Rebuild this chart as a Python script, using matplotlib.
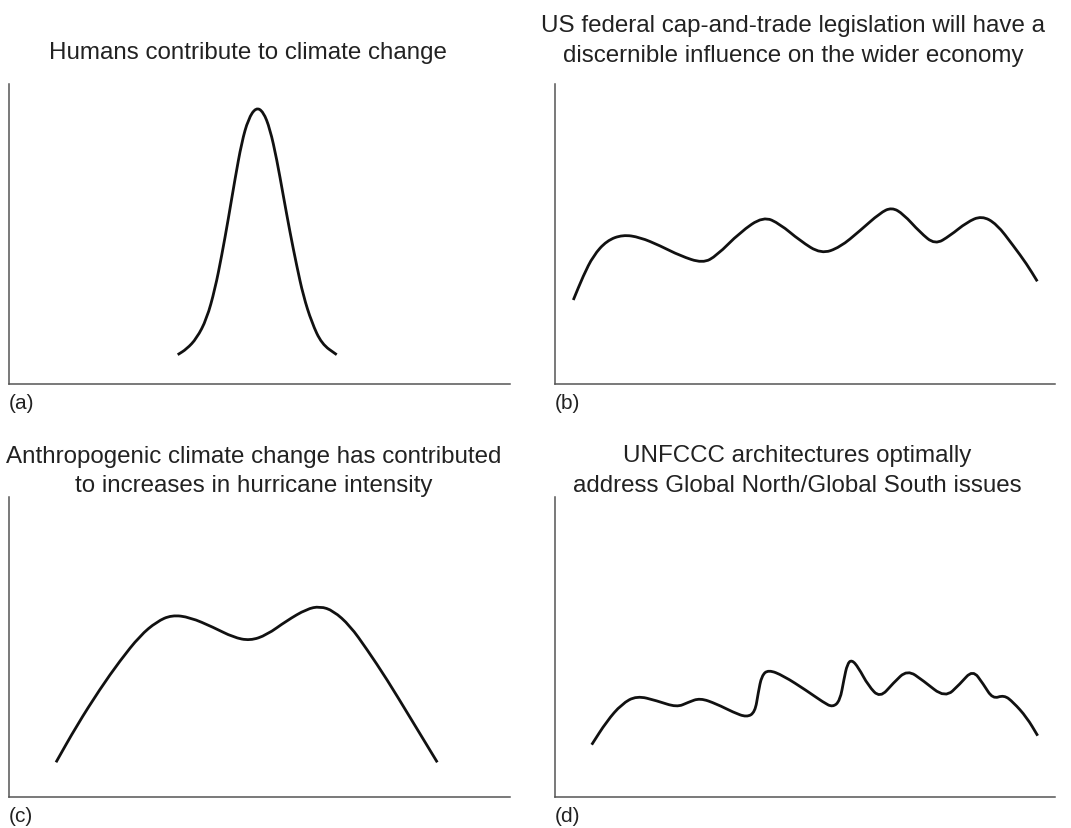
import matplotlib
matplotlib.use("Agg")
import matplotlib.pyplot as plt
from matplotlib.path import Path
from matplotlib.patches import PathPatch

W, H = 1071, 829
plt.rcParams["font.family"] = ["Liberation Sans", "DejaVu Sans"]
INK = "#222222"; SPINE = "#555555"

# curves (x along axis, y above baseline; same units both panels)
a_x = [168.7, 177.7, 187.7, 197.7, 206, 212.7, 219.3, 226, 232.7, 239.3, 247, 254.3, 261, 267.7,
       274.3, 281, 287.7, 294.3, 302.7, 312.7, 327.7]
a_y = [29.3, 35, 45.7, 65, 95, 128.3, 165, 205, 241.7, 265, 276.7, 272.3, 255, 225,
       188.3, 151.7, 118.3, 88.3, 61.7, 40, 29.3]

b_x = [18.3, 28.3, 38.3, 51.7, 67.7, 85, 105, 125, 147.7, 161.7, 185, 208.3, 225, 245, 266, 285,
       305, 325, 336.7, 348.3, 365, 380, 395, 411.7, 426.7, 441.7, 458.3, 471.7, 482.3]
b_y = [84, 108.3, 128.3, 143.3, 149.3, 146.7, 138.3, 128.3, 120.7, 128.3, 151.7, 167.7, 160, 143.3,
       130, 136.7, 153.3, 171, 176.7, 170, 151.7, 139.3, 148.3, 161.7, 168.3, 160, 138.3, 120, 102.7]

c_x = [47, 67.7, 91, 111, 131, 147.7, 162.7, 181, 204.3, 224.3, 241, 257.7, 277.7, 297.7, 311,
       324.3, 341, 357.7, 377.7, 401, 428.3]
c_y = [34.7, 71.3, 108, 136.3, 161.3, 175.3, 182, 179.7, 169.7, 159.7, 156.3, 162, 176.3, 188,
       190.7, 186.3, 171.3, 148, 118, 79.7, 34.7]

d_x = [36.7, 51.7, 66.7, 81.7, 101.7, 121.7, 133.3, 145, 161.7, 178.3, 191.7, 200, 203.3, 206.7,
       213.3, 228.3, 251.7, 268.3, 277.7, 285, 289, 292.3, 296.7, 303.3, 313.3, 325, 338.3, 352.3,
       368.3, 390, 405, 417.7, 428.3, 437.7, 449, 458.3, 471.7, 482.7]
d_y = [52.3, 75.7, 93, 101.3, 96.3, 89.7, 94.7, 99, 93, 84.7, 79.7, 84.7, 104.7, 121.3,
       127.3, 121.3, 106.3, 94.7, 89.7, 96.3, 118, 133, 137.3, 129.7, 111.3, 99, 114, 127.3,
       116.3, 99, 113, 127.3, 113, 98, 102, 94.7, 79.7, 61.3]

titles = [["Humans contribute to climate change"],
          ["US federal cap-and-trade legislation will have a", "discernible influence on the wider economy"],
          ["Anthropogenic climate change has contributed", "to increases in hurricane intensity"],
          ["UNFCCC architectures optimally", "address Global North/Global South issues"]]
tags = ["(a)", "(b)", "(c)", "(d)"]

# panel boxes in pixels: left, right, top, bottom
boxes = [(9, 510, 85, 385), (555, 1055, 85, 385), (9, 510, 498, 798), (555, 1055, 498, 798)]
title_cx = [248, 793, 254, 797]
title_base = [[59], [32, 62], [463, 492], [462, 492]]
curves = [(a_x, a_y), (b_x, b_y), (c_x, c_y), (d_x, d_y)]

def smooth_path(xs, ys):
    # read points used as quadratic bezier controls, curve runs through the midpoints
    pts = list(zip(xs, ys))
    verts = [pts[0]]; codes = [Path.MOVETO]
    for i in range(1, len(pts) - 1):
        m0 = ((pts[i-1][0] + pts[i][0]) / 2, (pts[i-1][1] + pts[i][1]) / 2)
        m1 = ((pts[i][0] + pts[i+1][0]) / 2, (pts[i][1] + pts[i+1][1]) / 2)
        if i == 1:
            verts.append(m0); codes.append(Path.LINETO)
        verts += [pts[i], m1]; codes += [Path.CURVE3, Path.CURVE3]
    verts.append(pts[-1]); codes.append(Path.LINETO)
    return Path(verts, codes)

fig = plt.figure(figsize=(W/100, H/100), dpi=100)
for (l, r, t, b), (xs, ys), tl, cx, bl, tag in zip(boxes, curves, titles, title_cx, title_base, tags):
    ax = fig.add_axes([l/W, 1-b/H, (r-l)/W, (b-t)/H])
    ax.add_patch(PathPatch(smooth_path(xs, ys), fill=False, ec="#111111", lw=2.0,
                           joinstyle="round", capstyle="butt"))
    ax.set_xlim(0, r-l); ax.set_ylim(0, b-t)
    ax.set_xticks([]); ax.set_yticks([])
    for s in ("top", "right"): ax.spines[s].set_visible(False)
    for s in ("left", "bottom"): ax.spines[s].set_color(SPINE); ax.spines[s].set_linewidth(1.1)
    for line, yb in zip(tl, bl):
        fig.text(cx/W, 1-yb/H, line, ha="center", va="baseline", fontsize=17.4, color=INK)
    fig.text(l/W, 1-(b+19)/H, tag, ha="left", va="center", fontsize=15, color=INK)

fig.savefig("out.png", dpi=100, facecolor="white")
